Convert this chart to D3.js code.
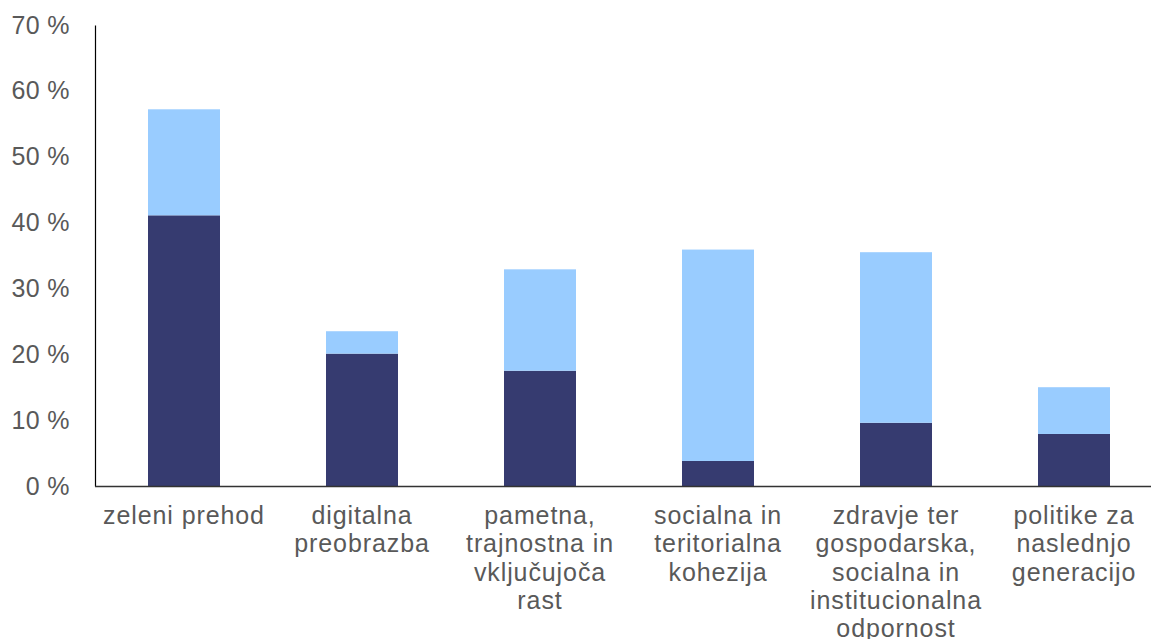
<!DOCTYPE html>
<html>
<head>
<meta charset="utf-8">
<script src="https://cdn.jsdelivr.net/npm/d3@7"></script>
<style>
  body { margin: 0; background: #fff; }
  svg { display: block; font-family: "Liberation Sans", Arial, sans-serif; }
</style>
</head>
<body>
<svg width="1151" height="639"></svg>
<script>
let width = 1151;
let height = 639;

let categories = [
  ['zeleni prehod'],
  ['digitalna', 'preobrazba'],
  ['pametna,', 'trajnostna in', 'vključujoča', 'rast'],
  ['socialna in', 'teritorialna', 'kohezija'],
  ['zdravje ter', 'gospodarska,', 'socialna in', 'institucionalna', 'odpornost'],
  ['politike za', 'naslednjo', 'generacijo']
];
let darkValues = [41.1, 20.1, 17.5, 3.8, 9.6, 7.9];
let lightValues = [16.1, 3.4, 15.4, 32.1, 25.9, 7.1];
let yTicks = [0, 10, 20, 30, 40, 50, 60, 70];

let colors = ['#363b70', '#99ccff'];

let plotLeft = 95, plotRight = 1163, plotTop = 25, plotBottom = 486;
let barWidth = 72;

let svg = d3.select('svg');

let x = d3.scaleBand()
  .domain(d3.range(categories.length))
  .range([plotLeft, plotRight])
  .padding(0);

let y = d3.scaleLinear()
  .domain([0, 70])
  .range([plotBottom, plotTop]);

let rows = categories.map((c, i) => ({ i: i, dark: darkValues[i], light: lightValues[i] }));
let stacked = d3.stack().keys(['dark', 'light'])(rows);

svg.append('g')
  .selectAll('g')
  .data(stacked)
  .enter()
    .append('g')
    .attr('fill', (d, k) => colors[k])
    .selectAll('rect')
    .data(d => d)
    .enter()
      .append('rect')
      .attr('x', d => x(d.data.i) + x.bandwidth() / 2 - barWidth / 2)
      .attr('width', barWidth)
      .attr('y', d => y(d[1]))
      .attr('height', d => y(d[0]) - y(d[1]))
  ;

// y axis
let yAxis = svg.append('g')
  .attr('transform', `translate(${plotLeft},0)`)
  .call(d3.axisLeft(y).tickValues(yTicks).tickSize(0).tickPadding(25).tickFormat(d => d + ' %'));
yAxis.select('.domain').attr('stroke', '#000').attr('stroke-width', 1.2);
yAxis.selectAll('text')
  .attr('fill', '#595959')
  .style('font-size', '25px')
  .style('letter-spacing', '0.4px');

// x axis line
svg.append('line')
  .attr('x1', plotLeft)
  .attr('x2', plotRight)
  .attr('y1', plotBottom + 0.5)
  .attr('y2', plotBottom + 0.5)
  .attr('stroke', '#333')
  .attr('stroke-width', 1.3);

// category labels
let labels = svg.append('g')
  .selectAll('text')
  .data(categories)
  .enter()
    .append('text')
    .attr('text-anchor', 'middle')
    .attr('fill', '#595959')
    .style('font-size', '25px')
    .style('letter-spacing', '0.9px')
    .attr('transform', (d, i) => `translate(${x(i) + x.bandwidth() / 2},${524})`)
  ;
labels.selectAll('tspan')
  .data(d => d)
  .enter()
    .append('tspan')
    .attr('x', 0)
    .attr('y', (d, j) => j * 28.3)
    .text(d => d)
  ;
</script>
</body>
</html>
